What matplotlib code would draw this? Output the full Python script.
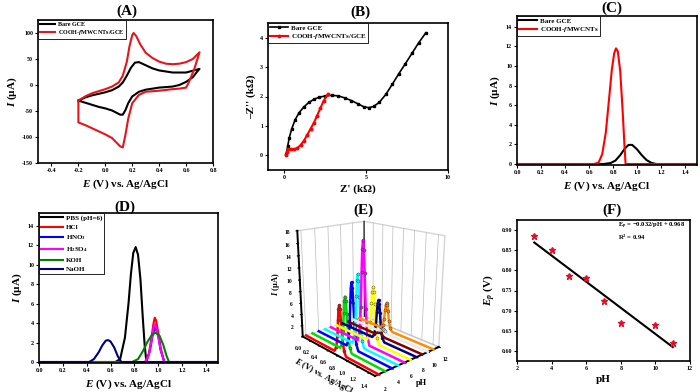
import matplotlib
matplotlib.use("Agg")
import matplotlib.pyplot as plt
import numpy as np

plt.rcParams['font.family'] = ['Liberation Serif', 'DejaVu Serif']
plt.rcParams['font.weight'] = 'bold'
plt.rcParams['axes.labelweight'] = 'bold'
plt.rcParams['mathtext.fontset'] = 'custom'
plt.rcParams['mathtext.rm'] = 'Liberation Serif:bold'
plt.rcParams['mathtext.it'] = 'Liberation Serif:italic:bold'
plt.rcParams['mathtext.bf'] = 'Liberation Serif:bold'

# ---- (A) cyclic voltammograms
cv_bare_e = [-0.2, -0.15, -0.1, -0.05, 0.0, 0.05, 0.1, 0.13, 0.16, 0.19, 0.22, 0.25, 0.3, 0.35, 0.4, 0.5, 0.6, 0.7,
             0.68, 0.65, 0.6, 0.55, 0.5, 0.4, 0.3, 0.25, 0.2, 0.17, 0.15, 0.13, 0.11, 0.08, 0.05, 0.0, -0.05, -0.1, -0.15, -0.2]
cv_bare_i = [-30, -24, -20, -17, -14, -10, -3, 5, 18, 33, 43, 44, 38, 32, 28, 24, 24, 31,
             25, 15, 6, 0, -3, -5, -9, -13, -22, -35, -48, -57, -57, -53, -49, -45, -42, -38, -34, -30]
cv_mod_e = [-0.2, -0.15, -0.1, -0.05, 0.0, 0.05, 0.1, 0.13, 0.16, 0.18, 0.2, 0.21, 0.23, 0.26, 0.3, 0.35, 0.4, 0.45,
            0.5, 0.55, 0.6, 0.65, 0.7,
            0.66, 0.62, 0.6, 0.55, 0.5, 0.4, 0.3, 0.25, 0.2, 0.17, 0.15, 0.13, 0.11, 0.08, 0.05, 0.0, -0.05, -0.1,
            -0.15, -0.2, -0.2]
cv_mod_i = [-30, -22, -16, -12, -8, -3, 5, 18, 45, 75, 96, 100, 94, 78, 62, 52, 45, 41,
            40, 41, 44, 50, 63,
            30, 5, -5, -7, -8, -11, -13, -19, -35, -65, -95, -120, -118, -110, -102, -95, -89, -83,
            -77, -72, -30]

# ---- (B) Nyquist plots
eis_bare_re = [0.12, 0.2, 0.3, 0.45, 0.65, 0.9, 1.2, 1.5, 1.8, 2.1, 2.5, 2.9, 3.3, 3.7, 4.1, 4.5, 4.85, 5.15,
               5.45, 5.8, 6.2, 6.6, 7.0, 7.4, 7.8, 8.2, 8.65]
eis_bare_im = [0.05, 0.3, 0.6, 0.9, 1.2, 1.45, 1.65, 1.8, 1.9, 1.97, 2.02, 2.04, 2.02, 1.95, 1.86, 1.75, 1.65, 1.62,
               1.66, 1.8, 2.07, 2.42, 2.78, 3.12, 3.47, 3.82, 4.17]
eis_mod_re = [0.12, 0.15, 0.25, 0.4, 0.6, 0.8, 1.0, 1.2, 1.4, 1.6, 1.8, 2.0, 2.2, 2.4, 2.65]
eis_mod_im = [0.0, 0.12, 0.2, 0.2, 0.2, 0.25, 0.35, 0.5, 0.7, 0.9, 1.1, 1.35, 1.6, 1.85, 2.08]

# ---- (C) DPV of both electrodes
dpv_bare_e = [0.0, 0.72, 0.78, 0.82, 0.86, 0.9, 0.93, 0.96, 1.0, 1.04, 1.08, 1.12, 1.16, 1.5]
dpv_bare_i = [0, 0, 0.1, 0.35, 0.9, 1.6, 1.95, 1.95, 1.5, 0.9, 0.4, 0.12, 0, 0]
dpv_mod_e = [0.0, 0.64, 0.68, 0.71, 0.74, 0.77, 0.79, 0.81, 0.825, 0.84, 0.86, 0.88, 0.895, 0.905, 1.5]
dpv_mod_i = [0, 0, 0.15, 1.0, 3.2, 7.0, 9.6, 11.3, 11.8, 11.5, 9.5, 5.5, 2.0, 0, 0]

# ---- (D) DPV in different electrolytes
elec_names = ['PBS (pH=6)', 'HCl', 'HNO$_3$', 'H$_2$SO$_4$', 'KOH', 'NaOH']
elec_colors = ['black', '#ff0000', '#0000ff', '#ff00ff', '#008000', '#000080']
elec_e = [
    [0.0, 0.64, 0.68, 0.72, 0.75, 0.77, 0.79, 0.81, 0.83, 0.85, 0.87, 0.885, 0.9, 1.5],
    [0.0, 0.89, 0.92, 0.94, 0.96, 0.97, 0.98, 1.0, 1.02, 1.05, 1.5],
    [0.0, 0.9, 0.93, 0.95, 0.97, 0.98, 1.0, 1.02, 1.05, 1.5],
    [0.0, 0.89, 0.92, 0.94, 0.96, 0.97, 0.98, 1.0, 1.02, 1.05, 1.5],
    [0.0, 0.78, 0.83, 0.87, 0.91, 0.95, 0.98, 1.01, 1.04, 1.07, 1.09, 1.5],
    [0.0, 0.42, 0.46, 0.5, 0.53, 0.56, 0.58, 0.6, 0.63, 0.66, 0.69, 1.5],
]
elec_i = [
    [0, 0, 0.3, 2.5, 6.0, 9.0, 11.2, 11.8, 11.0, 8.5, 4.5, 1.8, 0, 0],
    [0, 0, 0.8, 2.3, 4.0, 4.55, 4.3, 3.0, 1.4, 0, 0],
    [0, 0, 1.2, 2.6, 3.5, 3.4, 2.6, 1.2, 0, 0],
    [0, 0, 0.7, 2.0, 3.5, 3.9, 3.7, 2.6, 1.2, 0, 0],
    [0, 0, 0.3, 1.1, 2.1, 2.85, 3.0, 2.7, 1.8, 0.6, 0, 0],
    [0, 0, 0.3, 1.0, 1.7, 2.2, 2.25, 2.1, 1.5, 0.6, 0, 0],
]

# ---- (E) DPV at different pH (waterfall)
ph_levels = [2, 3, 4, 5, 6, 7, 8, 9, 10, 11]
ph_colors = ['#ff0000', '#00dd00', '#0000ff', '#00ffff', '#ff00ff', '#ffff00', '#000080', '#800000', '#e8e8e8', '#ff8c00']
ph_e = [
    [0.0, 0.66, 0.7, 0.73, 0.75, 0.765, 0.78, 0.795, 0.81, 0.83, 0.86, 0.9, 1.5],
    [0.0, 0.64, 0.68, 0.71, 0.73, 0.745, 0.76, 0.775, 0.79, 0.81, 0.84, 0.88, 1.5],
    [0.0, 0.64, 0.68, 0.71, 0.73, 0.745, 0.76, 0.775, 0.79, 0.81, 0.84, 0.88, 1.5],
    [0.0, 0.63, 0.67, 0.7, 0.72, 0.735, 0.75, 0.765, 0.78, 0.8, 0.83, 0.87, 1.5],
    [0.0, 0.61, 0.65, 0.68, 0.7, 0.715, 0.73, 0.745, 0.76, 0.78, 0.81, 0.85, 1.5],
    [0.0, 0.68, 0.72, 0.75, 0.77, 0.785, 0.8, 0.815, 0.83, 0.85, 0.88, 0.92, 1.5],
    [0.0, 0.67, 0.71, 0.74, 0.76, 0.775, 0.79, 0.805, 0.82, 0.84, 0.87, 0.91, 1.5],
    [0.0, 0.58, 0.62, 0.65, 0.67, 0.685, 0.7, 0.715, 0.73, 0.75, 0.78, 0.82, 1.5],
    [0.0, 0.54, 0.58, 0.61, 0.63, 0.645, 0.66, 0.675, 0.69, 0.71, 0.74, 0.78, 1.5],
    [0.0, 0.49, 0.53, 0.56, 0.58, 0.595, 0.61, 0.625, 0.64, 0.66, 0.69, 0.73, 1.5],
]
ph_i = [
    [0, 0, 0.8, 2.8, 5.6, 7.4, 8.0, 7.4, 5.6, 2.8, 0.8, 0, 0],
    [0, 0, 0.9, 3.2, 6.3, 8.3, 9.0, 8.3, 6.3, 3.2, 0.9, 0, 0],
    [0, 0, 1.1, 3.9, 7.7, 10.1, 11.0, 10.1, 7.7, 3.9, 1.1, 0, 0],
    [0, 0, 1.2, 4.2, 8.4, 11.0, 12.0, 11.0, 8.4, 4.2, 1.2, 0, 0],
    [0, 0, 1.7, 6.0, 11.9, 15.6, 17.0, 15.6, 11.9, 6.0, 1.7, 0, 0],
    [0, 0, 1.0, 3.3, 6.7, 8.7, 9.5, 8.7, 6.7, 3.3, 1.0, 0, 0],
    [0, 0, 0.7, 2.5, 4.9, 6.4, 7.0, 6.4, 4.9, 2.5, 0.7, 0, 0],
    [0, 0, 0.1, 0.3, 0.6, 0.7, 0.8, 0.7, 0.6, 0.3, 0.1, 0, 0],
    [0, 0, 0.1, 0.2, 0.4, 0.55, 0.6, 0.55, 0.4, 0.2, 0.1, 0, 0],
    [0, 0, 0.5, 1.8, 3.5, 4.6, 5.0, 4.6, 3.5, 1.8, 0.5, 0, 0],
]

# ---- (F) peak potential vs pH
ph_fit = [3, 4, 5, 6, 7, 8, 10, 11]
ep_fit = [0.885, 0.85, 0.785, 0.78, 0.725, 0.67, 0.665, 0.62]


fig = plt.figure(figsize=(7, 3.92), dpi=100)
W, H = 700.0, 392.0


def rect(l, t, r, b):
    return [l / W, 1 - b / H, (r - l) / W, (b - t) / H]


def style(ax, xlim, xt, ylim, yt, xfmt='{:g}', yfmt='{:g}'):
    ax.set_xlim(*xlim)
    ax.set_ylim(*ylim)
    ax.set_xticks(xt)
    ax.set_yticks(yt)
    ax.set_xticklabels([xfmt.format(v) for v in xt])
    ax.set_yticklabels([yfmt.format(v) for v in yt])
    ax.tick_params(direction='out', length=2, width=0.8, labelsize=4.3, pad=1.5,
                  top=False, right=False)
    for s in ax.spines.values():
        s.set_linewidth(1.2)


def legend(ax, fs=5, hl=2.6, ls=0.25):
    lg = ax.legend(loc='upper left', fontsize=fs, frameon=True, fancybox=False, edgecolor='black',
                   framealpha=1, borderaxespad=0, borderpad=0.25, handlelength=hl,
                   handletextpad=0.4, labelspacing=ls)
    lg.get_frame().set_linewidth(0.6)
    return lg


def title(x, y, s):
    fig.text(x / W, 1 - y / H, s, ha='center', va='center', fontsize=11, weight='bold')


# (A)
ax = fig.add_axes(rect(38, 20, 213, 163))
ax.plot(cv_bare_e, cv_bare_i, color='black', lw=1.5, label='Bare GCE')
ax.plot(cv_mod_e, cv_mod_i, color='#e8141c', lw=1.5, label='COOH-$f$MWCNTs/GCE')
style(ax, (-0.5, 0.8), [-0.4, -0.2, 0.0, 0.2, 0.4, 0.6, 0.8], (-150, 125), [-150, -100, -50, 0, 50, 100],
      xfmt='{:.1f}')
ax.set_xlabel('$E$ (V) vs. Ag/AgCl', fontsize=8, labelpad=3)
ax.set_ylabel('$I$ (µA)', fontsize=8, labelpad=2)
legend(ax, fs=4.4)
title(127, 11, '(A)')

# (B)
ax = fig.add_axes(rect(268, 23, 448, 170))
ax.plot(eis_bare_re, eis_bare_im, color='black', lw=1.2, marker='s', ms=1.8, label='Bare GCE')
ax.plot(eis_mod_re, eis_mod_im, color='#ff0000', lw=1.5, marker='o', ms=1.8, label='COOH-$f$MWCNTs/GCE')
style(ax, (-1, 10), [0, 5, 10], (-0.5, 4.5), [0, 1, 2, 3, 4])
ax.set_xlabel("Z' (kΩ)", fontsize=8, labelpad=3)
ax.set_ylabel("–Z'' (kΩ)", fontsize=8, labelpad=3)
legend(ax)
title(360, 12, '(B)')

# (C)
ax = fig.add_axes(rect(517, 16, 697, 165))
ax.plot(dpv_bare_e, dpv_bare_i, color='black', lw=1.5, label='Bare GCE')
ax.plot(dpv_mod_e, dpv_mod_i, color='#ff0000', lw=1.5, label='COOH-$f$MWCNTs')
style(ax, (0, 1.5), [0.0, 0.2, 0.4, 0.6, 0.8, 1.0, 1.2, 1.4], (-0.1, 15.1), [0, 2, 4, 6, 8, 10, 12, 14],
      xfmt='{:.1f}')
ax.set_xlabel('$E$ (V) vs. Ag/AgCl', fontsize=8, labelpad=3)
ax.set_ylabel('$I$ (µA)', fontsize=8, labelpad=3)
legend(ax)
title(612, 8, '(C)')

# (D)
ax = fig.add_axes(rect(39, 213, 218, 363))
for e, i, c, n in zip(elec_e, elec_i, elec_colors, elec_names):
    ax.plot(e, i, color=c, lw=1.5, label=n)
style(ax, (0, 1.5), [0.0, 0.2, 0.4, 0.6, 0.8, 1.0, 1.2, 1.4], (-0.1, 15.3), [0, 2, 4, 6, 8, 10, 12, 14],
      xfmt='{:.1f}')
ax.set_xlabel('$E$ (V) vs. Ag/AgCl', fontsize=8, labelpad=3)
ax.set_ylabel('$I$ (µA)', fontsize=8, labelpad=3)
legend(ax, hl=3.2, ls=0.45)
title(125, 207, '(D)')

# (E) 3D waterfall
ax = fig.add_axes(rect(254, 203, 479, 381), projection='3d')
ax.set_proj_type('persp', focal_length=0.45)
ax.view_init(elev=18, azim=-42)
ax.set_box_aspect((1.1, 0.85, 1.1), zoom=1.0)
ax.set_xlim(0, 1.5)
ax.set_ylim(1.5, 12)
ax.set_zlim(0, 18)
# light vertical grid on the two back walls
for xv in [0.2, 0.4, 0.6, 0.8, 1.0, 1.2, 1.4]:
    ax.plot([xv, xv], [12, 12], [0, 18], color='#bbbbbb', lw=0.5)
for yv in [2, 4, 6, 8, 10]:
    ax.plot([0, 0], [yv, yv], [0, 18], color='#bbbbbb', lw=0.5)
ax.plot([0, 0], [12, 12], [0, 18], color='black', lw=0.8)
for k in range(len(ph_levels)):
    ys = [ph_levels[k]] * len(ph_e[k])
    ax.plot(ph_e[k], ys, ph_i[k], color=ph_colors[k], lw=1.8)
    pe = [e for e, i in zip(ph_e[k], ph_i[k]) if i > 0.3]
    pi = [i for i in ph_i[k] if i > 0.3]
    ax.plot(pe, [ph_levels[k]] * len(pe), pi, linestyle='none', marker='o', ms=2.2,
            mfc=ph_colors[k], mec='#333333', mew=0.3)
ax.grid(False)
for p in (ax.xaxis.pane, ax.yaxis.pane, ax.zaxis.pane):
    p.set_facecolor('white')
    p.set_edgecolor('#aaaaaa')
ax.set_xticks([0.0, 0.2, 0.4, 0.6, 0.8, 1.0, 1.2, 1.4])
ax.set_yticks([2, 4, 6, 8, 10, 12])
ax.set_zticks([2, 4, 6, 8, 10, 12, 14, 16, 18])
ax.set_xticklabels(['0.0', '0.2', '0.4', '0.6', '0.8', '1.0', '1.2', '1.4'])
ax.tick_params(labelsize=4, pad=-3)
ax.zaxis.set_ticks_position('lower')
ax.zaxis.set_label_position('lower')
for a in (ax.xaxis, ax.yaxis, ax.zaxis):
    a.line.set_linewidth(1.4)
ax.set_xlabel('$E$ (V) vs. Ag/AgCl', fontsize=6, labelpad=-10)
ax.set_ylabel('pH', fontsize=6, labelpad=-11)
ax.zaxis.set_rotate_label(False)
ax.set_zlabel('$I$ (µA)', fontsize=6, labelpad=-9, rotation=90)
title(363, 210, '(E)')

# (F)
ax = fig.add_axes(rect(517, 220, 690, 361))
slope, icpt = np.polyfit(ph_fit, ep_fit, 1)
ax.plot([ph_fit[0], ph_fit[-1]], [slope * ph_fit[0] + icpt, slope * ph_fit[-1] + icpt], color='black', lw=1.5)
ax.plot(ph_fit, ep_fit, linestyle='none', marker='*', ms=4.5, color='#e0102a')
style(ax, (2, 12), [2, 4, 6, 8, 10, 12], (0.575, 0.925), [0.60, 0.65, 0.70, 0.75, 0.80, 0.85, 0.90],
      yfmt='{:.2f}')
ax.text(7.85, 0.911, 'E$_p$ = −0.032/$\\mathbf{pH}$ + 0.968', fontsize=4.8, va='center')
ax.text(7.85, 0.881, 'R$^2$ = 0.94', fontsize=4.8, va='center')
ax.set_xlabel('pH', fontsize=8, labelpad=3)
ax.set_ylabel('$E_p$ (V)', fontsize=8, labelpad=3)
title(612, 210, '(F)')

fig.savefig('out.png', dpi=100)
